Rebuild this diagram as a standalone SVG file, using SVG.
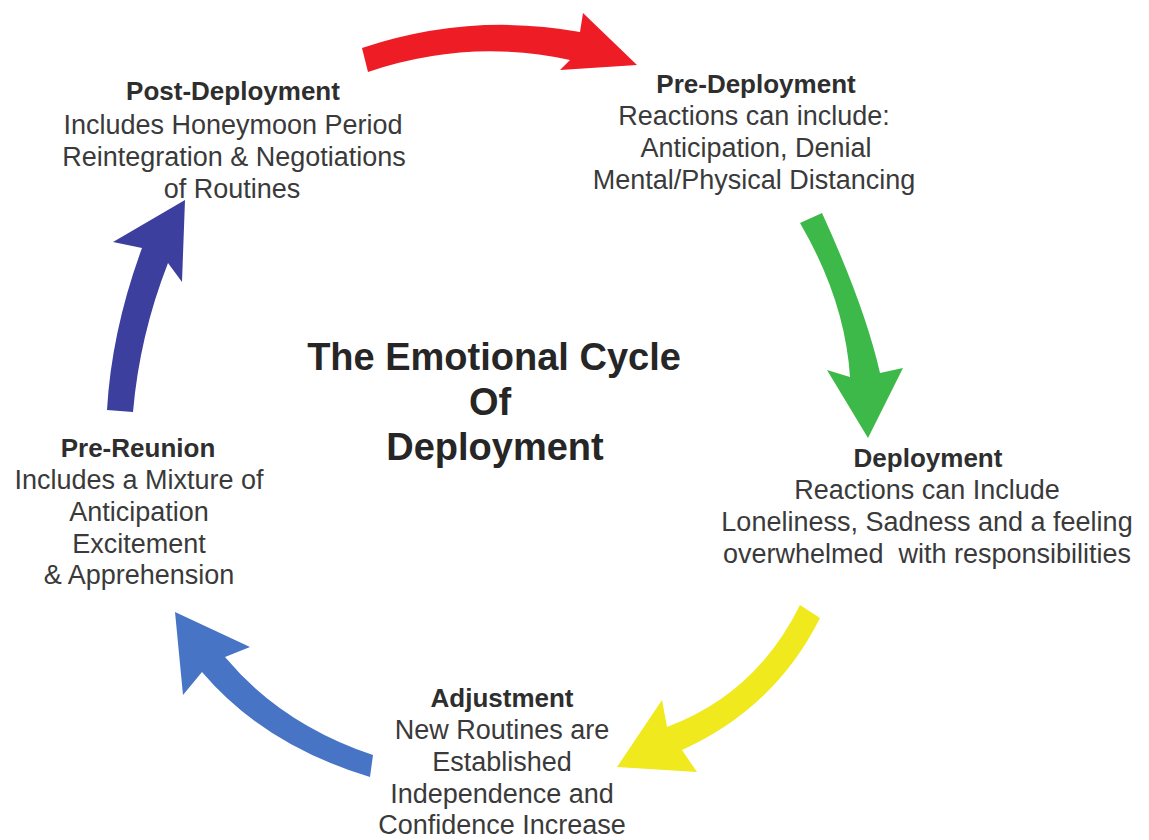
<svg xmlns="http://www.w3.org/2000/svg" width="1149" height="840" viewBox="0 0 1149 840">
<style>
text{font-family:"Liberation Sans",Arial,sans-serif;text-anchor:middle;}
.h{font-size:26px;font-weight:bold;fill:#2e2e2e;}
.b{font-size:27px;fill:#3a3a3a;}
.t{font-size:38px;font-weight:bold;fill:#262626;}
</style>
<rect width="1149" height="840" fill="#ffffff"/>
<g id="connectors">
<path id="arrow-red" fill="#ee1c25" d="M362,48 Q471,12 580,32 L583,13 L637,65 L560,70 L570,60 Q469,38 368,72 Z"/>
<path id="arrow-green" fill="#3db94a" d="M800,223 Q845,300 850,377 L827,370 L868,438 L903,368 L880,373 Q865,307 822,213 Z"/>
<path id="arrow-yellow" fill="#efe91d" d="M800,605 Q756,694 667,727 L662,700 L617,767 L697,772 L682,750 Q775,708 820,618 Z"/>
<path id="arrow-blue" fill="#4874c6" d="M175,612 L250,647 L225,657 Q281,724 373,755 L370,777 Q264,745 202,672 L183,695 Z"/>
<path id="arrow-indigo" fill="#3d3f9f" d="M185,200 L113,242 L142,248 Q111.5,331 107,410 L133,412 Q139.5,336 168,263 L182,282 Z"/>
</g>
<g id="title">
<text class="t" x="494" y="370">The Emotional Cycle</text>
<text class="t" x="490" y="415">Of</text>
<text class="t" x="495" y="460">Deployment</text>
</g>
<g id="post-deployment">
<text class="h" x="233" y="100">Post-Deployment</text>
<text class="b" x="233" y="134">Includes Honeymoon Period</text>
<text class="b" x="234" y="166">Reintegration &amp; Negotiations</text>
<text class="b" x="232" y="198">of Routines</text>
</g>
<g id="pre-deployment">
<text class="h" x="756" y="93">Pre-Deployment</text>
<text class="b" x="754" y="125">Reactions can include:</text>
<text class="b" x="756" y="157">Anticipation, Denial</text>
<text class="b" x="754" y="189">Mental/Physical Distancing</text>
</g>
<g id="deployment">
<text class="h" x="928" y="467">Deployment</text>
<text class="b" x="927" y="499">Reactions can Include</text>
<text class="b" x="927" y="531">Loneliness, Sadness and a feeling</text>
<text class="b" x="927" y="563" xml:space="preserve">overwhelmed  with responsibilities</text>
</g>
<g id="adjustment">
<text class="h" x="502" y="707">Adjustment</text>
<text class="b" x="502" y="739">New Routines are</text>
<text class="b" x="502" y="771">Established</text>
<text class="b" x="502" y="803">Independence and</text>
<text class="b" x="502" y="834">Confidence Increase</text>
</g>
<g id="pre-reunion">
<text class="h" x="138" y="457">Pre-Reunion</text>
<text class="b" x="139" y="489">Includes a Mixture of</text>
<text class="b" x="139" y="521">Anticipation</text>
<text class="b" x="139" y="553">Excitement</text>
<text class="b" x="139" y="584">&amp; Apprehension</text>
</g>
</svg>
